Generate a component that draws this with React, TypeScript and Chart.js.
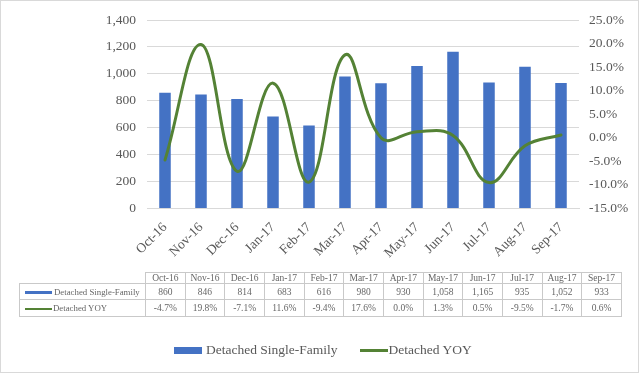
import React, { useEffect, useRef } from "react";
import { Chart, registerables } from "chart.js";

Chart.register(...registerables);

const categories = ["Oct-16", "Nov-16", "Dec-16", "Jan-17", "Feb-17", "Mar-17", "Apr-17", "May-17", "Jun-17", "Jul-17", "Aug-17", "Sep-17"];
const detachedSingleFamily = [860, 846, 814, 683, 616, 980, 930, 1058, 1165, 935, 1052, 933];
const detachedYOY = [-4.7, 19.8, -7.1, 11.6, -9.4, 17.6, 0.0, 1.3, 0.5, -9.5, -1.7, 0.6];
const seriesNames = ["Detached Single-Family", "Detached YOY"];
const leftAxis = { min: 0, max: 1400, step: 200 };
const rightAxis = { min: -15, max: 25, step: 5 };

const FONT = "'Liberation Serif', 'Times New Roman', serif";
const BAR_COLOR = "#4472C4";
const LINE_COLOR = "#548235";
const TEXT_COLOR = "#595959";
const GRID_COLOR = "#d9d9d9";
const TABLE_BORDER = "#c9c9c9";

const fmtNum = (v: number) => v.toLocaleString("en-US");
const fmtPct = (v: number) => v.toFixed(1) + "%";

export default function App() {
  const canvasRef = useRef<HTMLCanvasElement | null>(null);

  useEffect(() => {
    if (!canvasRef.current) return;
    const chart = new Chart(canvasRef.current, {
      type: "bar",
      data: {
        labels: categories,
        datasets: [
          {
            type: "bar",
            label: seriesNames[0],
            data: detachedSingleFamily,
            backgroundColor: BAR_COLOR,
            barPercentage: 0.32,
            categoryPercentage: 1,
            yAxisID: "y",
            order: 1,
          },
          {
            type: "line",
            label: seriesNames[1],
            data: detachedYOY,
            borderColor: LINE_COLOR,
            backgroundColor: LINE_COLOR,
            borderWidth: 3,
            pointRadius: 0,
            tension: 0.4,
            borderCapStyle: "round",
            borderJoinStyle: "round",
            yAxisID: "y1",
            order: 0,
          },
        ],
      },
      options: {
        responsive: false,
        animation: false,
        layout: { padding: { top: 20, left: 0, right: 0, bottom: 0 } },
        plugins: { legend: { display: false }, tooltip: { enabled: false } },
        scales: {
          x: {
            grid: { display: false, drawTicks: false },
            border: { display: true, color: GRID_COLOR },
            ticks: {
              color: TEXT_COLOR,
              font: { family: FONT, size: 13.5 },
              minRotation: 45,
              maxRotation: 45,
              padding: 11,
            },
            afterFit: (scale: any) => {
              scale.height = 374 - 208.5;
            },
          },
          y: {
            position: "left",
            min: leftAxis.min,
            max: leftAxis.max,
            grid: { color: GRID_COLOR, drawTicks: false },
            border: { display: false },
            ticks: {
              stepSize: leftAxis.step,
              color: TEXT_COLOR,
              font: { family: FONT, size: 13.5 },
              padding: 11,
              callback: (v: any) => fmtNum(Number(v)),
            },
            afterFit: (scale: any) => {
              scale.width = 147;
            },
          },
          y1: {
            position: "right",
            min: rightAxis.min,
            max: rightAxis.max,
            grid: { display: false, drawTicks: false },
            border: { display: false },
            ticks: {
              stepSize: rightAxis.step,
              color: TEXT_COLOR,
              font: { family: FONT, size: 13.5 },
              padding: 10,
              callback: (v: any) => fmtPct(Number(v)),
            },
            afterFit: (scale: any) => {
              scale.width = 640 - 579;
            },
          },
        },
      },
    } as any);
    return () => chart.destroy();
  }, []);

  const cellStyle: React.CSSProperties = {
    border: `1px solid ${TABLE_BORDER}`,
    textAlign: "center",
    padding: 0,
    fontFamily: FONT,
    fontSize: 9.5,
    color: "#666666",
    whiteSpace: "nowrap",
  };

  const labelCell: React.CSSProperties = {
    ...cellStyle,
    textAlign: "left",
    paddingLeft: 5,
    fontSize: 8.8,
  };

  const swatch = (i: number) =>
    i === 0 ? (
      <span style={{ display: "inline-block", width: 27, height: 3, background: BAR_COLOR, verticalAlign: "middle", marginRight: 2 }} />
    ) : (
      <span style={{ display: "inline-block", width: 27, height: 2.5, background: LINE_COLOR, verticalAlign: "middle", marginRight: 1 }} />
    );

  const rows = [detachedSingleFamily.map(fmtNum), detachedYOY.map(fmtPct)];

  return (
    <div style={{ position: "fixed", left: 0, top: 0, width: 640, height: 374, background: "#fff", overflow: "hidden" }}>
      <canvas ref={canvasRef} width={640} height={374} style={{ position: "absolute", left: 0, top: 0, width: 640, height: 374 }} />
      <div style={{ position: "absolute", left: 0, top: 0, width: 639, height: 373, border: "1px solid #d9d9d9", boxSizing: "border-box", pointerEvents: "none" }} />
      <table
        style={{
          position: "absolute",
          left: 19,
          top: 272,
          width: 602,
          borderCollapse: "collapse",
          tableLayout: "fixed",
        }}
      >
        <colgroup>
          <col style={{ width: 126 }} />
          {categories.map((c) => (
            <col key={c} style={{ width: (602 - 126) / 12 }} />
          ))}
        </colgroup>
        <tbody>
          <tr style={{ height: 11 }}>
            <td style={{ ...cellStyle, borderTop: "none", borderLeft: "none" }} />
            {categories.map((c) => (
              <td key={c} style={{ ...cellStyle, lineHeight: "10px" }}>{c}</td>
            ))}
          </tr>
          {rows.map((r, i) => (
            <tr key={i} style={{ height: i === 0 ? 16 : 17 }}>
              <td style={labelCell}>
                {swatch(i)}
                {seriesNames[i]}
              </td>
              {r.map((v, j) => (
                <td key={j} style={cellStyle}>{v}</td>
              ))}
            </tr>
          ))}
        </tbody>
      </table>
      <div
        style={{
          position: "absolute",
          left: 174,
          top: 341,
          height: 18,
          display: "flex",
          alignItems: "center",
          fontFamily: FONT,
          fontSize: 13.5,
          color: TEXT_COLOR,
          whiteSpace: "nowrap",
        }}
      >
        <span style={{ display: "inline-block", width: 28, height: 7, background: BAR_COLOR, marginRight: 4 }} />
        <span>{seriesNames[0]}</span>
        <span style={{ display: "inline-block", width: 28, height: 3, background: LINE_COLOR, marginLeft: 22, marginRight: 1 }} />
        <span>{seriesNames[1]}</span>
      </div>
    </div>
  );
}
